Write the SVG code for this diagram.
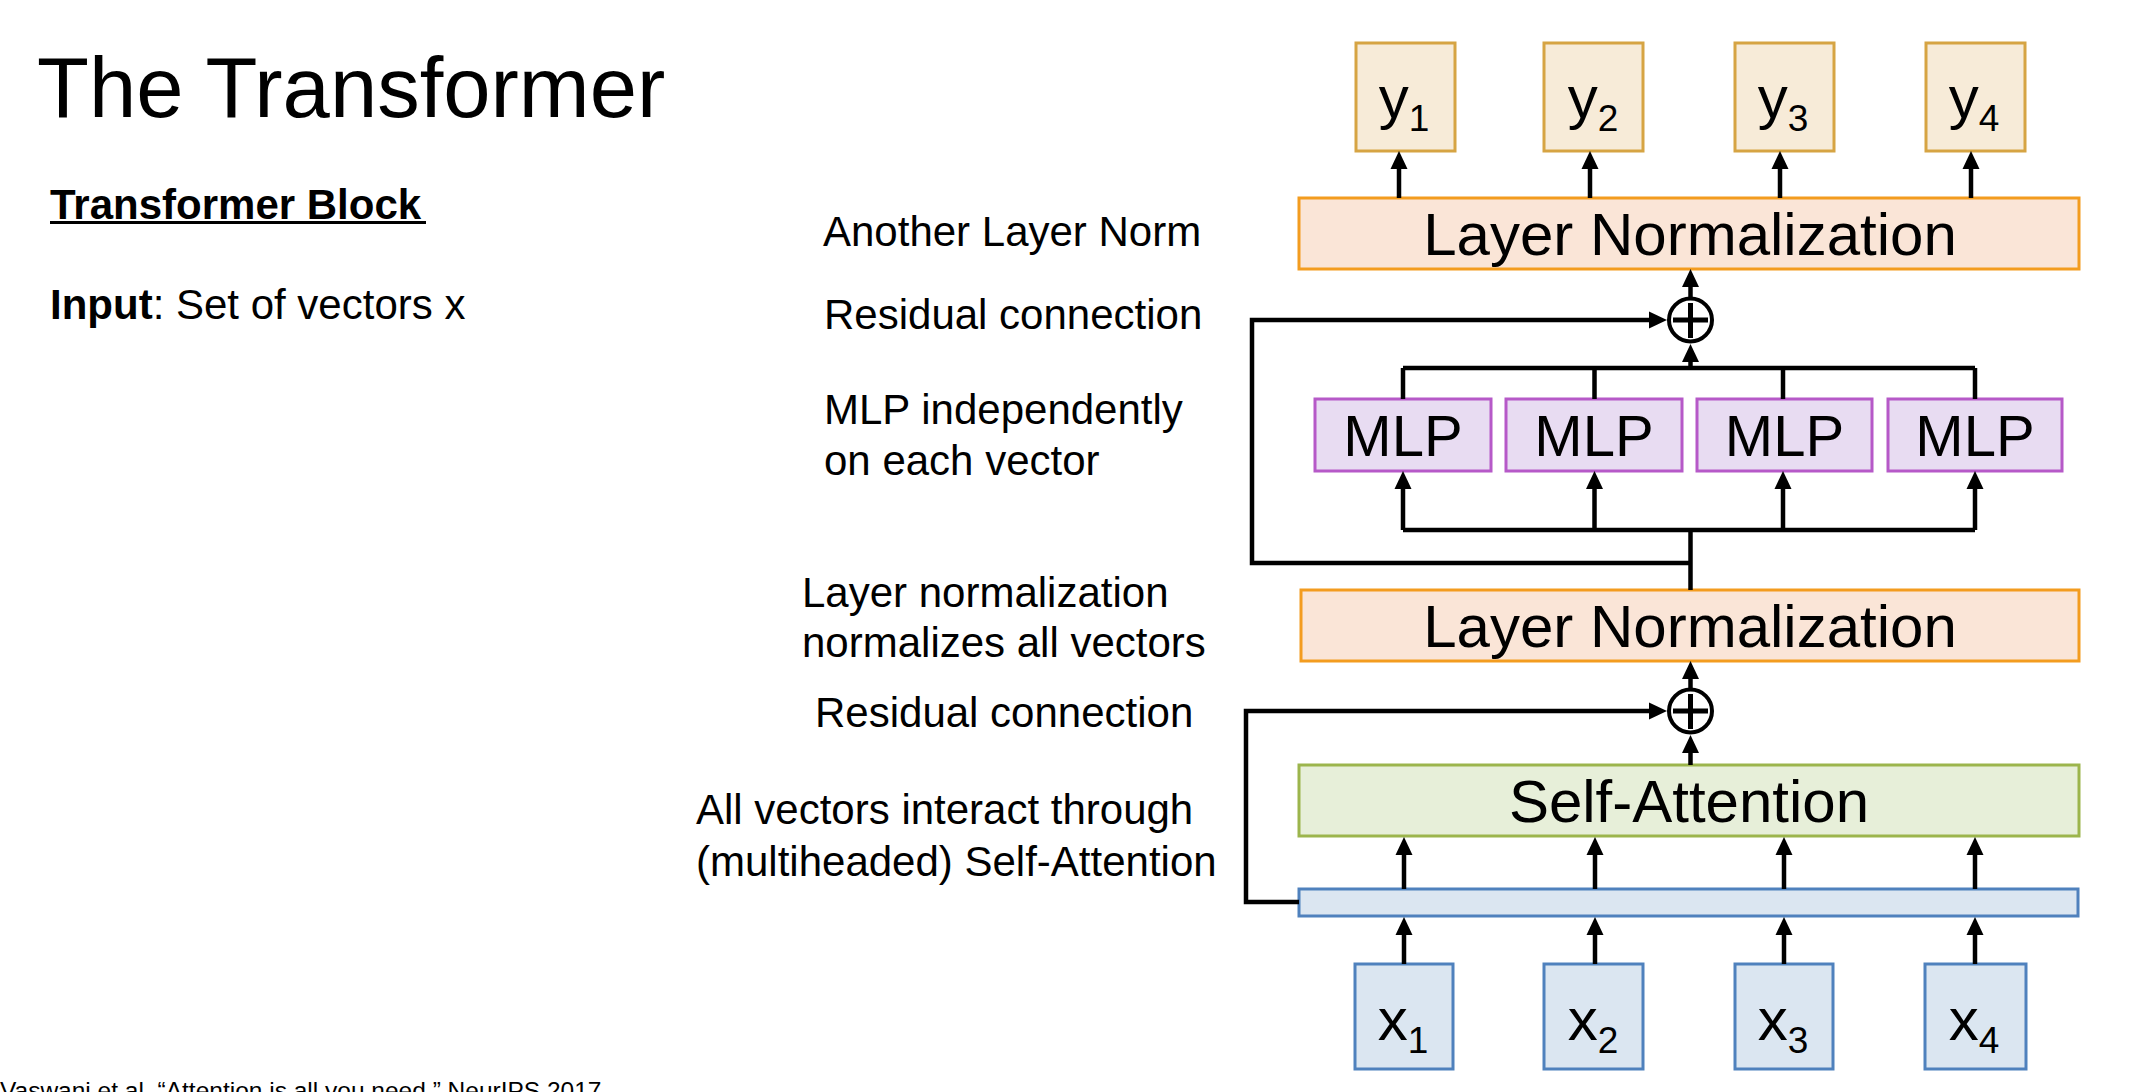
<svg xmlns="http://www.w3.org/2000/svg" width="2138" height="1092" viewBox="0 0 2138 1092">
  <style>
    text { font-family: "Liberation Sans", Arial, sans-serif; fill: #000; }
    .title { font-size: 85px; }
    .head { font-size: 42px; font-weight: bold; }
    .note { font-size: 42px; }
    .lbl { font-size: 60px; text-anchor: middle; }
    .mlp-t { font-size: 58px; text-anchor: middle; }
    .sub { font-size: 37px; }
    .cite { font-size: 24.5px; }
    .ybox { fill: #F7EBD8; stroke: #D6A443; stroke-width: 3; }
    .ln { fill: #FAE5D7; stroke: #F39C1F; stroke-width: 3; }
    .mlp { fill: #E8DCF2; stroke: #B659C8; stroke-width: 3; }
    .sa { fill: #E7EFD9; stroke: #9CB54C; stroke-width: 3; }
    .xbox { fill: #DBE6F1; stroke: #4F81BD; stroke-width: 3; }
    .wire { fill: none; stroke: #000; stroke-width: 4.5; }
    .arr { fill: none; stroke: #000; stroke-width: 4.5; marker-end: url(#ah); }
    .ring { fill: none; stroke: #000; stroke-width: 4; }
    .plus { fill: none; stroke: #000; stroke-width: 5; }
  </style>
  <defs>
    <marker id="ah" markerUnits="userSpaceOnUse" markerWidth="18" markerHeight="18" viewBox="0 0 18 18" refX="10" refY="9" orient="auto">
      <path d="M0,0.5 L18,9 L0,17.5 z" fill="#000"/>
    </marker>
  </defs>
  <rect width="2138" height="1092" fill="#fff"/>

  <!-- Left-hand text -->
  <text class="title" x="37" y="117">The Transformer</text>
  <g id="block-heading">
    <text class="head" x="50" y="219">Transformer Block</text>
    <rect x="50" y="221" width="376" height="3" fill="#000"/>
  </g>
  <text class="note" x="50" y="319"><tspan font-weight="bold">Input</tspan>: Set of vectors x</text>

  <!-- Annotations -->
  <g id="annotations">
    <text class="note" x="823" y="246">Another Layer Norm</text>
    <text class="note" x="824" y="329">Residual connection</text>
    <text class="note" x="824" y="424">MLP independently</text>
    <text class="note" x="824" y="475">on each vector</text>
    <text class="note" x="802" y="607">Layer normalization</text>
    <text class="note" x="802" y="657">normalizes all vectors</text>
    <text class="note" x="815" y="727">Residual connection</text>
    <text class="note" x="696" y="824">All vectors interact through</text>
    <text class="note" x="696" y="876">(multiheaded) Self-Attention</text>
  </g>

  <!-- Citation (runs off the bottom edge) -->
  <text class="cite" x="0" y="1099">Vaswani et al, “Attention is all you need,” NeurIPS 2017</text>

  <!-- Outputs -->
  <g id="y1"><rect class="ybox" x="1356" y="43" width="99" height="108"/><text class="lbl" x="1404" y="118">y<tspan class="sub" dy="13">1</tspan></text></g>
  <g id="y2"><rect class="ybox" x="1544" y="43" width="99" height="108"/><text class="lbl" x="1593" y="118">y<tspan class="sub" dy="13">2</tspan></text></g>
  <g id="y3"><rect class="ybox" x="1735" y="43" width="99" height="108"/><text class="lbl" x="1783" y="118">y<tspan class="sub" dy="13">3</tspan></text></g>
  <g id="y4"><rect class="ybox" x="1926" y="43" width="99" height="108"/><text class="lbl" x="1974" y="118">y<tspan class="sub" dy="13">4</tspan></text></g>

  <!-- Layer norms -->
  <g id="layernorm-2"><rect class="ln" x="1299" y="198" width="780" height="71"/><text class="lbl" x="1690" y="255">Layer Normalization</text></g>
  <g id="layernorm-1"><rect class="ln" x="1301" y="590" width="778" height="71"/><text class="lbl" x="1690" y="647">Layer Normalization</text></g>

  <!-- Residual adders -->
  <g id="add-2"><circle class="ring" cx="1690.5" cy="320" r="21.5"/><path class="plus" d="M1673,320 H1708 M1690.5,303 V338"/></g>
  <g id="add-1"><circle class="ring" cx="1690.5" cy="711" r="21.5"/><path class="plus" d="M1673,711 H1708 M1690.5,694 V729"/></g>

  <!-- MLPs -->
  <g id="mlp1"><rect class="mlp" x="1315" y="399" width="176" height="72"/><text class="mlp-t" x="1403" y="456">MLP</text></g>
  <g id="mlp2"><rect class="mlp" x="1506" y="399" width="176" height="72"/><text class="mlp-t" x="1594" y="456">MLP</text></g>
  <g id="mlp3"><rect class="mlp" x="1697" y="399" width="175" height="72"/><text class="mlp-t" x="1784.5" y="456">MLP</text></g>
  <g id="mlp4"><rect class="mlp" x="1888" y="399" width="174" height="72"/><text class="mlp-t" x="1975" y="456">MLP</text></g>

  <!-- Self-attention -->
  <g id="self-attention"><rect class="sa" x="1299" y="765" width="780" height="71"/><text class="lbl" x="1689" y="822">Self-Attention</text></g>

  <!-- Input bar -->
  <g id="input-bar"><rect class="xbox" x="1299" y="889" width="779" height="27"/></g>

  <!-- Inputs -->
  <g id="x1"><rect class="xbox" x="1355" y="964" width="98" height="105"/><text class="lbl" x="1403" y="1040">x<tspan class="sub" dy="13">1</tspan></text></g>
  <g id="x2"><rect class="xbox" x="1544" y="964" width="99" height="105"/><text class="lbl" x="1593" y="1040">x<tspan class="sub" dy="13">2</tspan></text></g>
  <g id="x3"><rect class="xbox" x="1735" y="964" width="98" height="105"/><text class="lbl" x="1783" y="1040">x<tspan class="sub" dy="13">3</tspan></text></g>
  <g id="x4"><rect class="xbox" x="1925" y="964" width="101" height="105"/><text class="lbl" x="1974" y="1040">x<tspan class="sub" dy="13">4</tspan></text></g>

  <!-- Connectors -->
  <g id="connectors">
    <!-- inputs into the bar -->
    <path class="arr" d="M1404,964 V925"/>
    <path class="arr" d="M1595,964 V925"/>
    <path class="arr" d="M1784,964 V925"/>
    <path class="arr" d="M1975,964 V925"/>
    <!-- bar into self-attention -->
    <path class="arr" d="M1404,889 V845"/>
    <path class="arr" d="M1595,889 V845"/>
    <path class="arr" d="M1784,889 V845"/>
    <path class="arr" d="M1975,889 V845"/>
    <!-- self-attention into adder, adder into norm -->
    <path class="arr" d="M1690.5,765 V743"/>
    <path class="arr" d="M1690.5,688 V669"/>
    <!-- first residual path -->
    <path class="arr" d="M1299,902 H1246 V711 H1659"/>
    <!-- norm out to MLP fan-out -->
    <path class="wire" d="M1690.5,590 V530"/>
    <path class="wire" d="M1403,530 H1975"/>
    <path class="arr" d="M1403,530 V479"/>
    <path class="arr" d="M1594.5,530 V479"/>
    <path class="arr" d="M1783,530 V479"/>
    <path class="arr" d="M1975,530 V479"/>
    <!-- MLP outputs gathered -->
    <path class="wire" d="M1403,399 V368 M1594.5,399 V368 M1783,399 V368 M1975,399 V368"/>
    <path class="wire" d="M1403,368 H1975"/>
    <path class="arr" d="M1690.5,368 V352"/>
    <!-- second residual path -->
    <path class="arr" d="M1690.5,563 H1252 V320 H1659"/>
    <!-- adder into final norm -->
    <path class="arr" d="M1690.5,297 V277"/>
    <!-- norm out to outputs -->
    <path class="arr" d="M1399,198 V159"/>
    <path class="arr" d="M1590,198 V159"/>
    <path class="arr" d="M1780,198 V159"/>
    <path class="arr" d="M1971,198 V159"/>
  </g>
</svg>
